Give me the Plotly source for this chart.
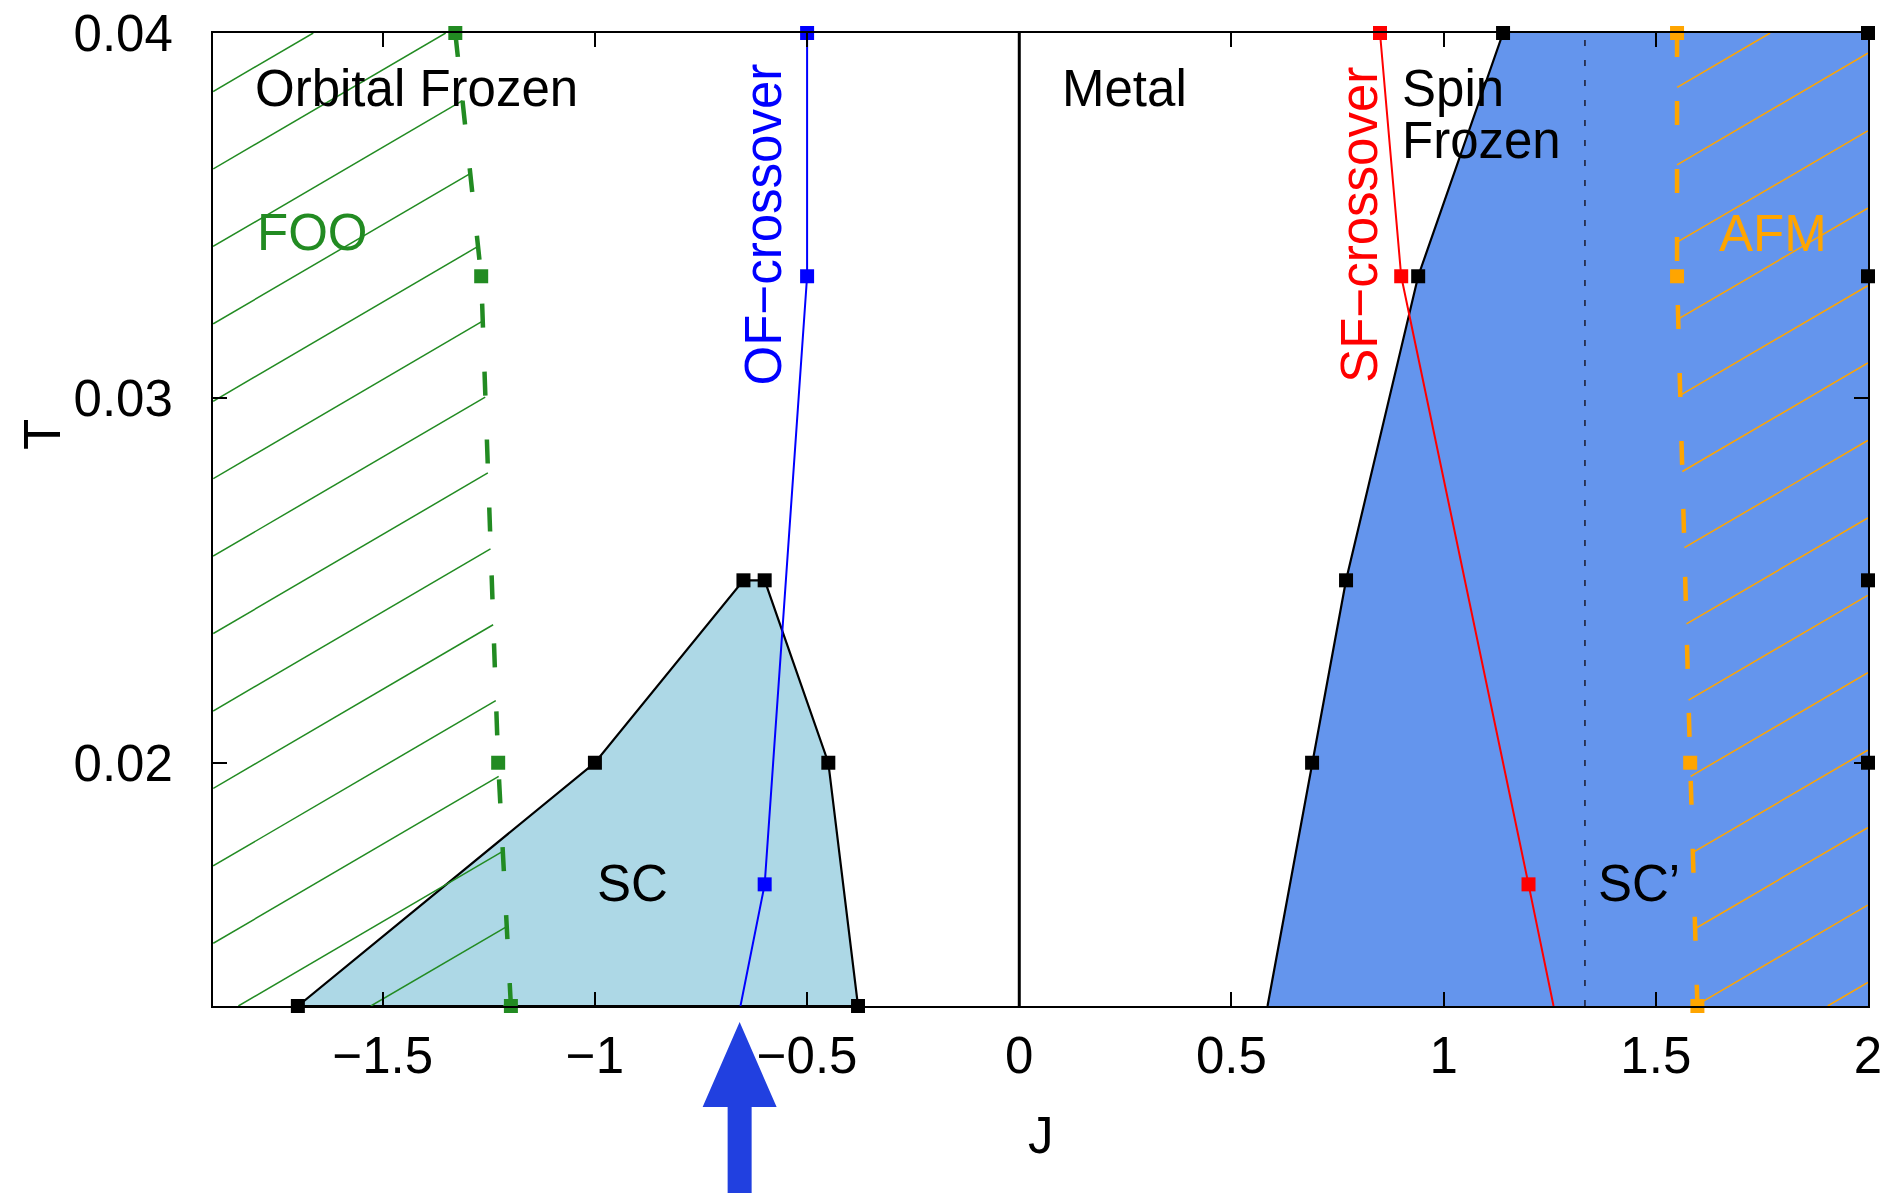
import numpy as np
import plotly.graph_objects as go

# ---------------- data ----------------
T_TOP = 0.04
T_BOTTOM = 0.013333
J_MIN = -1.9
J_MAX = 2.0

# SC dome (light blue)
sc_J = [-1.70, -1.00, -0.65, -0.60, -0.45, -0.38]
sc_T = [0.013333, 0.02, 0.025, 0.025, 0.02, 0.013333]

# SC' region boundary (cornflower blue)
scp_J = [0.585, 0.69, 0.77, 0.94, 1.14]
scp_T = [0.013333, 0.02, 0.025, 0.033333, 0.04]
scp_marked = [False, True, True, True, True]
scp_edge_J = [2.0, 2.0, 2.0, 2.0]
scp_edge_T = [0.04, 0.033333, 0.025, 0.02]

# OF-crossover (blue)
of_J = [-0.50, -0.50, -0.60, -0.657]
of_T = [0.04, 0.033333, 0.016667, 0.013333]
of_marked = [True, True, True, False]

# SF-crossover (red)
sf_J = [0.85, 0.90, 1.20, 1.259]
sf_T = [0.04, 0.033333, 0.016667, 0.013333]
sf_marked = [True, True, True, False]

# FOO boundary (green, dashed)
foo_J = [-1.329, -1.268, -1.228, -1.198]
foo_T = [0.04, 0.033333, 0.02, 0.013333]

# AFM boundary (orange, dashed)
afm_J = [1.55, 1.55, 1.581, 1.598]
afm_T = [0.04, 0.033333, 0.02, 0.013333]

# SC / SC' separation (dotted) and marked J (arrow)
scp_sep_J = 1.333
arrow_J = -0.659

x_tickvals = [-1.5, -1, -0.5, 0, 0.5, 1, 1.5, 2]
x_ticktext = ["\u22121.5", "\u22121", "\u22120.5", "0", "0.5", "1", "1.5", "2"]
y_tickvals = [0.02, 0.03, 0.04]
y_ticktext = ["0.02", "0.03", "0.04"]

# ---------------- styles ----------------
FONT = "Liberation Sans, Arial, Helvetica, sans-serif"
FS = 51
GREEN = "#228B22"
ORANGE = "#FFA500"
BLUE = "#0000FF"
RED = "#FF0000"
LIGHTBLUE = "#ADD8E6"
CORNFLOWER = "#6495ED"
ARROW_COLOR = "#2140E0"
MS = 14

# hatch pattern (screen-like pattern expressed in data units)
HATCH_DJ = 0.3121
HATCH_K = 0.0068
HATCH_PHASE = -1.8402


def hatch_lines(bJ, bT, side):
    order = np.argsort(bT)
    bT_a = np.asarray(bT)[order]
    bJ_a = np.asarray(bJ)[order]
    Ts = np.linspace(T_BOTTOM, T_TOP, 6001)
    Bs = np.interp(Ts, bT_a, bJ_a)
    xs, ys = [], []
    for n in range(-60, 60):
        J0 = HATCH_PHASE + n * HATCH_DJ
        Jl = J0 + (Ts - T_BOTTOM) / HATCH_K
        if side == "left":
            m = (Jl >= J_MIN) & (Jl <= Bs)
        else:
            m = (Jl >= Bs) & (Jl <= J_MAX)
        idx = np.where(m)[0]
        if len(idx) < 2:
            continue
        t0, t1 = Ts[idx[0]], Ts[idx[-1]]
        xs += [J0 + (t0 - T_BOTTOM) / HATCH_K, J0 + (t1 - T_BOTTOM) / HATCH_K, None]
        ys += [t0, t1, None]
    return xs, ys


fig = go.Figure()

# SC' filled region
fig.add_trace(go.Scatter(
    x=scp_J + [J_MAX, J_MAX], y=scp_T + [T_TOP, T_BOTTOM],
    fill="toself", fillcolor=CORNFLOWER, mode="lines",
    line=dict(color="rgba(0,0,0,0)", width=0), hoverinfo="skip", showlegend=False))

# SC dome filled
fig.add_trace(go.Scatter(
    x=sc_J + [sc_J[0]], y=sc_T + [sc_T[0]],
    fill="toself", fillcolor=LIGHTBLUE, mode="lines",
    line=dict(color="black", width=2.2), hoverinfo="skip", showlegend=False))

# hatches
hx, hy = hatch_lines(foo_J, foo_T, "left")
fig.add_trace(go.Scatter(x=hx, y=hy, mode="lines", line=dict(color=GREEN, width=1.5),
                         hoverinfo="skip", showlegend=False))
hx, hy = hatch_lines(afm_J, afm_T, "right")
fig.add_trace(go.Scatter(x=hx, y=hy, mode="lines", line=dict(color=ORANGE, width=1.5),
                         hoverinfo="skip", showlegend=False))

# SC' boundary line
fig.add_trace(go.Scatter(x=scp_J, y=scp_T, mode="lines", line=dict(color="black", width=2.2),
                         hoverinfo="skip", showlegend=False))

# crossover lines
fig.add_trace(go.Scatter(x=of_J, y=of_T, mode="lines", line=dict(color=BLUE, width=2),
                         hoverinfo="skip", showlegend=False))
fig.add_trace(go.Scatter(x=sf_J, y=sf_T, mode="lines", line=dict(color=RED, width=2),
                         hoverinfo="skip", showlegend=False))

# dashed boundaries
fig.add_trace(go.Scatter(x=foo_J, y=foo_T, mode="lines",
                         line=dict(color=GREEN, width=4.5, dash="24px,44px"),
                         hoverinfo="skip", showlegend=False))
fig.add_trace(go.Scatter(x=afm_J, y=afm_T, mode="lines",
                         line=dict(color=ORANGE, width=4.5, dash="24px,44px"),
                         hoverinfo="skip", showlegend=False))

# markers
def pick(vals, flags):
    return [v for v, f in zip(vals, flags) if f]

marker_sets = [
    (sc_J, sc_T, "black"),
    (pick(scp_J, scp_marked), pick(scp_T, scp_marked), "black"),
    (scp_edge_J, scp_edge_T, "black"),
    (pick(of_J, of_marked), pick(of_T, of_marked), BLUE),
    (pick(sf_J, sf_marked), pick(sf_T, sf_marked), RED),
    (foo_J, foo_T, GREEN),
    (afm_J, afm_T, ORANGE),
]
for mx, my, c in marker_sets:
    fig.add_trace(go.Scatter(x=mx, y=my, mode="markers", cliponaxis=False,
                             marker=dict(symbol="square", size=MS, color=c, line=dict(width=0)),
                             hoverinfo="skip", showlegend=False))

shapes = [
    dict(type="line", xref="x", yref="paper", x0=0, x1=0, y0=0, y1=1,
         line=dict(color="black", width=3), layer="above"),
    dict(type="line", xref="x", yref="paper", x0=scp_sep_J, x1=scp_sep_J, y0=0, y1=1,
         line=dict(color="#1a1a2e", width=1.5, dash="6px,14px"), layer="above"),
    dict(type="path", xref="x", xsizemode="pixel", xanchor=arrow_J,
         yref="paper", ysizemode="pixel", yanchor=0,
         path="M 0,-16 L 37,-101 L 12,-101 L 12,-200 L -12,-200 L -12,-101 L -37,-101 Z",
         fillcolor=ARROW_COLOR, line=dict(width=0), layer="above"),
]

def ann(text, x, y, color="black", xanchor="left", angle=0, xref="x", yref="y"):
    return dict(text=text, x=x, y=y, xref=xref, yref=yref, showarrow=False,
                xanchor=xanchor, yanchor="middle", textangle=angle,
                font=dict(family=FONT, size=FS, color=color))

annotations = [
    ann("Orbital Frozen", -1.805, 0.03848),
    ann("FOO", -1.802, 0.03452, GREEN),
    ann("Metal", 0.097, 0.03847),
    ann("Spin", 0.897, 0.03848),
    ann("Frozen", 0.897, 0.03705),
    ann("AFM", 1.643, 0.03450, ORANGE),
    ann("SC", -1.001, 0.01670),
    ann("SC\u2019", 1.358, 0.01670),
    ann("OF\u2212crossover", -0.6020, 0.03475, BLUE, xanchor="center", angle=-90),
    ann("SF\u2212crossover", 0.8024, 0.03474, RED, xanchor="center", angle=-90),
    ann("T", -0.1033, 0.5868, xanchor="center", angle=-90, xref="paper", yref="paper"),
    ann("J", 0.5, -0.1326, xanchor="center", xref="paper", yref="paper"),
]

fig.update_layout(
    width=1890, height=1193,
    margin=dict(l=213, r=22, t=33, b=187, pad=0, autoexpand=False),
    paper_bgcolor="white", plot_bgcolor="white",
    showlegend=False,
    font=dict(family=FONT, size=FS, color="black"),
    shapes=shapes, annotations=annotations,
    xaxis=dict(range=[J_MIN, J_MAX], tickvals=x_tickvals, ticktext=x_ticktext,
               showgrid=False, zeroline=False, showline=True, linecolor="black", linewidth=2,
               mirror="ticks", ticks="inside", ticklen=14, tickwidth=1.5, tickcolor="black",
               automargin=False,
               tickfont=dict(family=FONT, size=FS, color="black"), ticklabelstandoff=4),
    yaxis=dict(range=[T_BOTTOM, T_TOP], tickvals=y_tickvals, ticktext=y_ticktext,
               showgrid=False, zeroline=False, showline=True, linecolor="black", linewidth=2,
               mirror="ticks", ticks="inside", ticklen=14, tickwidth=1.5, tickcolor="black",
               automargin=False,
               tickfont=dict(family=FONT, size=FS, color="black"), ticklabelstandoff=28),
)

fig.write_html("out.html")
